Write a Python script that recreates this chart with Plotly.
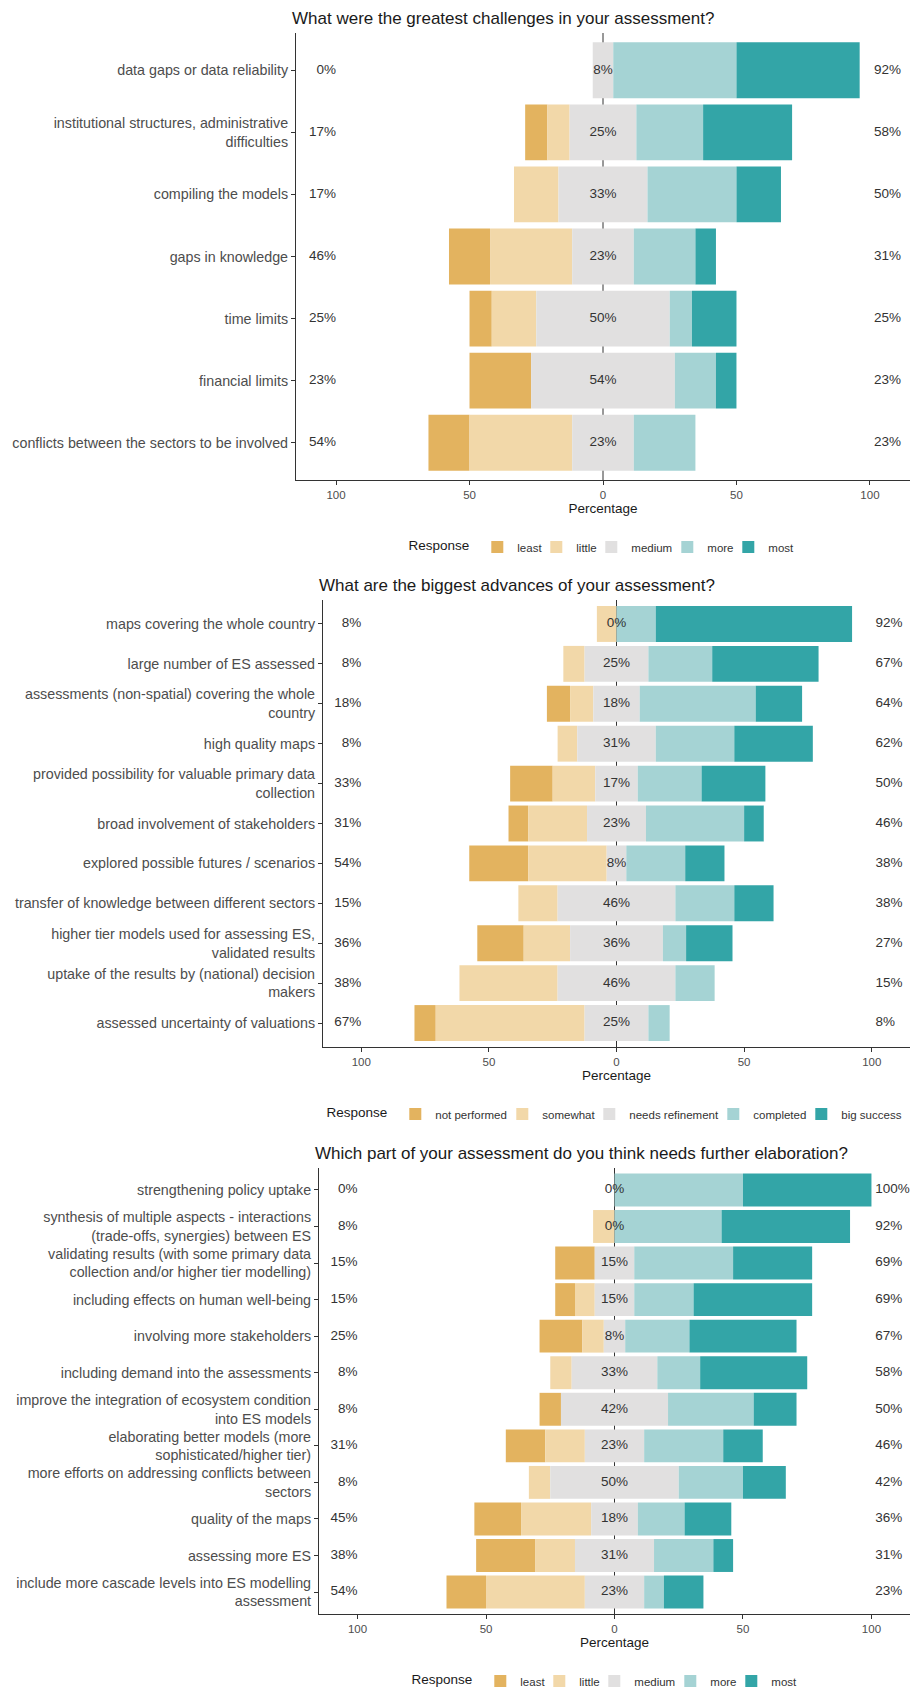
import plotly.graph_objects as go

W, H = 912, 1690
FONT = "Liberation Sans, Arial, sans-serif"

colors = ["#E3B35F", "#F2D8A9", "#E1E0E0", "#A5D3D4", "#33A5A7"]

# ---------------- Panel 1 ----------------
title1 = "What were the greatest challenges in your assessment?"
levels1 = ["least", "little", "medium", "more", "most"]
items1 = [
    "data gaps or data reliability",
    "institutional structures, administrative<br>difficulties",
    "compiling the models",
    "gaps in knowledge",
    "time limits",
    "financial limits",
    "conflicts between the sectors to be involved",
]
p1_least = [0, 8.33, 0, 15.38, 8.33, 23.08, 15.38]
p1_little = [0, 8.33, 16.67, 30.77, 16.67, 0, 38.46]
p1_medium = [7.69, 25, 33.33, 23.08, 50, 53.85, 23.08]
p1_more = [46.15, 25, 33.33, 23.08, 8.33, 15.38, 23.08]
p1_most = [46.15, 33.33, 16.67, 7.69, 16.67, 7.69, 0]

# ---------------- Panel 2 ----------------
title2 = "What are the biggest advances of your assessment?"
levels2 = ["not performed", "somewhat", "needs refinement", "completed", "big success"]
items2 = [
    "maps covering the whole country",
    "large number of ES assessed",
    "assessments (non-spatial) covering the whole<br>country",
    "high quality maps",
    "provided possibility for valuable primary data<br>collection",
    "broad involvement of stakeholders",
    "explored possible futures / scenarios",
    "transfer of knowledge between different sectors",
    "higher tier models used for assessing ES,<br>validated results",
    "uptake of the results by (national) decision<br>makers",
    "assessed uncertainty of valuations",
]
p2_least = [0, 0, 9.09, 0, 16.67, 7.69, 23.08, 0, 18.18, 0, 8.33]
p2_little = [7.69, 8.33, 9.09, 7.69, 16.67, 23.08, 30.77, 15.38, 18.18, 38.46, 58.33]
p2_medium = [0, 25, 18.18, 30.77, 16.67, 23.08, 7.69, 46.15, 36.36, 46.15, 25]
p2_more = [15.38, 25, 45.45, 30.77, 25, 38.46, 23.08, 23.08, 9.09, 15.38, 8.33]
p2_most = [76.92, 41.67, 18.18, 30.77, 25, 7.69, 15.38, 15.38, 18.18, 0, 0]

# ---------------- Panel 3 ----------------
title3 = "Which part of your assessment do you think needs further elaboration?"
levels3 = ["least", "little", "medium", "more", "most"]
items3 = [
    "strengthening policy uptake",
    "synthesis of multiple aspects - interactions<br>(trade-offs, synergies) between ES",
    "validating results (with some primary data<br>collection and/or higher tier modelling)",
    "including effects on human well-being",
    "involving more stakeholders",
    "including demand into the assessments",
    "improve the integration of ecosystem condition<br>into ES models",
    "elaborating better models (more<br>sophisticated/higher tier)",
    "more efforts on addressing conflicts between<br>sectors",
    "quality of the maps",
    "assessing more ES",
    "include more cascade levels into ES modelling<br>assessment",
]
p3_least = [0, 0, 15.38, 7.69, 16.67, 0, 8.33, 15.38, 0, 18.18, 23.08, 15.38]
p3_little = [0, 8.33, 0, 7.69, 8.33, 8.33, 0, 15.38, 8.33, 27.27, 15.38, 38.46]
p3_medium = [0, 0, 15.38, 15.38, 8.33, 33.33, 41.67, 23.08, 50, 18.18, 30.77, 23.08]
p3_more = [50, 41.67, 38.46, 23.08, 25, 16.67, 33.33, 30.77, 25, 18.18, 23.08, 7.69]
p3_most = [50, 50, 30.77, 46.15, 41.67, 41.67, 16.67, 15.38, 16.67, 18.18, 7.69, 15.38]

tick_vals = [-100, -50, 0, 50, 100]
tick_text = ["100", "50", "0", "50", "100"]

# legend entry widths (px) to tighten spacing like the original (0 = auto)
lw_short = [14, 10, 31, 16, 0]
lw_long = [62, 42, 79, 43, 0]

# layout geometry (pixels)
panels = [
    dict(title=title1, levels=levels1, items=items1,
         data=[p1_least, p1_little, p1_medium, p1_more, p1_most], lw=lw_short,
         x0=296, top=33, bottom=480, title_y=19, legend_y=547, legend_x=603, legend="legend"),
    dict(title=title2, levels=levels2, items=items2,
         data=[p2_least, p2_little, p2_medium, p2_more, p2_most], lw=lw_long,
         x0=323, top=600, bottom=1047, title_y=585, legend_y=1114, legend_x=616, legend="legend2"),
    dict(title=title3, levels=levels3, items=items3,
         data=[p3_least, p3_little, p3_medium, p3_more, p3_most], lw=lw_short,
         x0=319, top=1168, bottom=1614, title_y=1153, legend_y=1681, legend_x=606, legend="legend3"),
]
X1 = 910

fig = go.Figure()
layout = dict(width=W, height=H, margin=dict(l=0, r=0, t=0, b=0, autoexpand=False),
              plot_bgcolor="white", paper_bgcolor="white",
              barmode="overlay", font=dict(family=FONT, color="#333333"),
              annotations=[], shapes=[])

for i, p in enumerate(panels):
    k = "" if i == 0 else str(i + 1)
    xa, ya = "x" + k, "y" + k
    least, little, medium, more, most = p["data"]
    n = len(p["items"])
    half = [m / 2 for m in medium]
    bases = [
        [-(h + a + b) for h, a, b in zip(half, little, least)],
        [-(h + a) for h, a in zip(half, little)],
        [-h for h in half],
        [h for h in half],
        [h + c for h, c in zip(half, more)],
    ]
    for j, (lvl, vals) in enumerate(zip(p["levels"], p["data"])):
        fig.add_trace(go.Bar(
            y=p["items"], x=vals, base=bases[j], orientation="h",
            name=lvl, marker=dict(color=colors[j], line=dict(width=0)),
            width=0.9, xaxis=xa, yaxis=ya, legend=p["legend"],
            legendwidth=p["lw"][j], hoverinfo="skip"))
    low = [round(a + b) for a, b in zip(least, little)]
    mid = [round(m) for m in medium]
    high = [round(c + d) for c, d in zip(more, most)]
    tf = dict(size=13.5, color="#333333", family=FONT)
    fig.add_trace(go.Scatter(y=p["items"], x=[-100] * n, mode="text",
                             text=[f"{v}%" for v in low], textposition="middle left",
                             textfont=tf, showlegend=False, xaxis=xa, yaxis=ya,
                             cliponaxis=False, hoverinfo="skip"))
    fig.add_trace(go.Scatter(y=p["items"], x=[0] * n, mode="text",
                             text=[f"{v}%" for v in mid], textposition="middle center",
                             textfont=tf, showlegend=False, xaxis=xa, yaxis=ya,
                             cliponaxis=False, hoverinfo="skip"))
    fig.add_trace(go.Scatter(y=p["items"], x=[101.5] * n, mode="text",
                             text=[f"{v}%" for v in high], textposition="middle right",
                             textfont=tf, showlegend=False, xaxis=xa, yaxis=ya,
                             cliponaxis=False, hoverinfo="skip"))

    xdom = [p["x0"] / W, X1 / W]
    ydom = [1 - p["bottom"] / H, 1 - p["top"] / H]
    layout["xaxis" + k] = dict(
        domain=xdom, anchor=ya, range=[-115, 115], showgrid=False, zeroline=False,
        showline=True, linecolor="#333333", linewidth=1.1, ticks="outside",
        ticklen=4, tickcolor="#333333", tickwidth=1.1,
        tickvals=tick_vals, ticktext=tick_text,
        tickfont=dict(size=11.5, color="#4D4D4D"),
        title=dict(text="Percentage", font=dict(size=13.5, color="#1A1A1A"), standoff=2),
        automargin=False, fixedrange=True)
    layout["yaxis" + k] = dict(
        domain=ydom, anchor=xa, type="category", categoryorder="array",
        categoryarray=p["items"], range=[n - 0.4, -0.6], showgrid=False,
        zeroline=False, showline=True, linecolor="#333333", linewidth=1.1,
        ticks="outside", ticklen=4, tickcolor="#333333", tickwidth=1.1,
        tickfont=dict(size=14.3, color="#4D4D4D"), automargin=False, fixedrange=True)
    layout["shapes"].append(dict(
        type="line", xref=xa, yref=ya + " domain", x0=0, x1=0, y0=0, y1=1,
        line=dict(color="#333333", width=1), layer="below"))
    layout["annotations"].append(dict(
        text=p["title"], xref="paper", yref="paper", x=(p["x0"] - 6) / W,
        y=1 - p["title_y"] / H, xanchor="left", yanchor="middle", showarrow=False,
        font=dict(size=17, color="#1A1A1A", family=FONT)))
    layout[p["legend"]] = dict(
        orientation="h", x=p["legend_x"] / W, xanchor="center",
        y=1 - p["legend_y"] / H, yanchor="middle",
        title=dict(text="Response", side="left", font=dict(size=13.5, color="#1A1A1A")),
        font=dict(size=11.5, color="#333333"), bgcolor="rgba(0,0,0,0)",
        traceorder="normal", itemclick=False, itemdoubleclick=False)

fig.update_layout(**layout)
fig.write_html("out.html", config={"displayModeBar": False},
               post_script="document.body.style.margin='0';")
